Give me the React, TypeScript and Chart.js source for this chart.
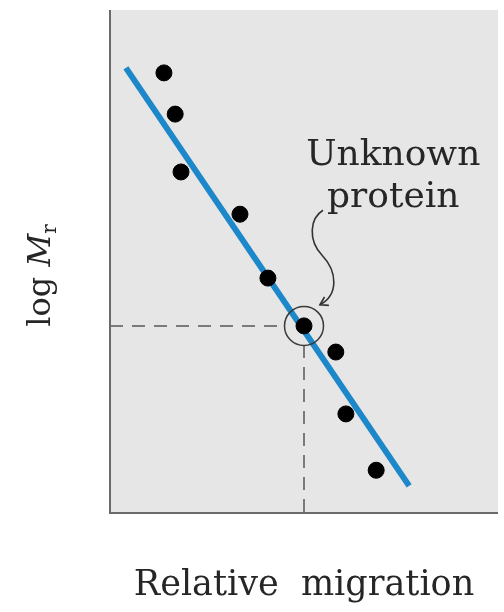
import React, { useEffect, useRef } from "react";
import { Chart, registerables } from "chart.js";

Chart.register(...registerables);

// Standards: relative migration vs log Mr (arbitrary units)
const migration = [0.139, 0.168, 0.183, 0.335, 0.407, 0.5, 0.582, 0.608, 0.686];
const logMr = [0.875, 0.793, 0.678, 0.594, 0.467, 0.372, 0.32, 0.197, 0.085];
const unknownIndex = 5;

// Fitted line end points
const fitX = [0.041, 0.771];
const fitY = [0.885, 0.054];

// Reading lines for the unknown protein
const readX = [0, 0.451];
const readY = [0.372, 0.372];
const dropX = [0.5, 0.5];
const dropY = [0.334, 0];

// Labels
const xLabel = "Relative  migration";
const yLabelParts = ["log ", "M", "r"];
const noteLines = ["Unknown", "protein"];
const notePos = [0.73, 0.692, 0.608]; // x, baseline of line1, baseline of line2

// Arrow path (data units): start, c1, c2, mid, c3, c4, tip
const arrowX = [0.549, 0.515, 0.51, 0.546, 0.588, 0.588, 0.541];
const arrowY = [0.602, 0.586, 0.543, 0.513, 0.479, 0.433, 0.414];

const SERIF = '"DejaVu Serif", serif';

const decorPlugin = {
  id: "decor",
  beforeDraw(chart: any) {
    const { ctx, chartArea: a } = chart;
    ctx.save();
    ctx.fillStyle = "#e6e6e6";
    ctx.fillRect(a.left, a.top, a.right - a.left, a.bottom - a.top);
    ctx.restore();
  },
  afterDatasetsDraw(chart: any) {
    const { ctx, chartArea: a } = chart;
    const xs = chart.scales.x;
    const ys = chart.scales.y;
    const px = (v: number) => xs.getPixelForValue(v);
    const py = (v: number) => ys.getPixelForValue(v);
    ctx.save();
    // axes
    ctx.strokeStyle = "#6a6a6a";
    ctx.lineWidth = 2;
    ctx.beginPath();
    ctx.moveTo(a.left, a.top);
    ctx.lineTo(a.left, a.bottom);
    ctx.lineTo(a.right, a.bottom);
    ctx.stroke();

    // arrow
    ctx.strokeStyle = "#333";
    ctx.lineWidth = 1.6;
    ctx.beginPath();
    ctx.moveTo(px(arrowX[0]), py(arrowY[0]));
    ctx.bezierCurveTo(px(arrowX[1]), py(arrowY[1]), px(arrowX[2]), py(arrowY[2]), px(arrowX[3]), py(arrowY[3]));
    ctx.bezierCurveTo(px(arrowX[4]), py(arrowY[4]), px(arrowX[5]), py(arrowY[5]), px(arrowX[6]), py(arrowY[6]));
    ctx.stroke();
    const tx = px(arrowX[6]);
    const ty = py(arrowY[6]);
    const ang = Math.atan2(ty - py(arrowY[5]), tx - px(arrowX[5]));
    const L = 9;
    ctx.beginPath();
    ctx.moveTo(tx - L * Math.cos(ang - 0.55), ty - L * Math.sin(ang - 0.55));
    ctx.lineTo(tx, ty);
    ctx.lineTo(tx - L * Math.cos(ang + 0.55), ty - L * Math.sin(ang + 0.55));
    ctx.stroke();

    // annotation text
    ctx.fillStyle = "#262626";
    ctx.font = `36px ${SERIF}`;
    ctx.textAlign = "center";
    ctx.textBaseline = "alphabetic";
    ctx.fillText(noteLines[0], px(notePos[0]), py(notePos[1]));
    ctx.fillText(noteLines[1], px(notePos[0]), py(notePos[2]));

    // x label
    ctx.font = `35px ${SERIF}`;
    ctx.fillText(xLabel, (a.left + a.right) / 2, a.bottom + 82);

    // y label (rotated, mixed fonts)
    ctx.translate(a.left - 60, (a.top + a.bottom) / 2 + 14);
    ctx.rotate(-Math.PI / 2);
    const f1 = `32px ${SERIF}`;
    const f2 = `italic 32px ${SERIF}`;
    const f3 = `20px ${SERIF}`;
    ctx.font = f1;
    const w1 = ctx.measureText(yLabelParts[0]).width;
    ctx.font = f2;
    const w2 = ctx.measureText(yLabelParts[1]).width;
    ctx.font = f3;
    const w3 = ctx.measureText(yLabelParts[2]).width;
    let x0 = -(w1 + w2 + w3) / 2;
    ctx.textAlign = "left";
    ctx.font = f1;
    ctx.fillText(yLabelParts[0], x0, 0);
    x0 += w1;
    ctx.font = f2;
    ctx.fillText(yLabelParts[1], x0, 0);
    x0 += w2;
    ctx.font = f3;
    ctx.fillText(yLabelParts[2], x0, 6);
    ctx.restore();
  },
};

export default function App() {
  const ref = useRef<HTMLCanvasElement | null>(null);
  useEffect(() => {
    if (!ref.current) return;
    const pts = migration.map((x, i) => ({ x, y: logMr[i] }));
    const chart = new Chart(ref.current, {
      type: "scatter",
      data: {
        datasets: [
          {
            label: "Standards",
            data: pts,
            backgroundColor: "#000",
            borderColor: "#000",
            pointRadius: 8,
            pointHoverRadius: 8,
            order: 0,
          },
          {
            label: "Unknown circle",
            data: [{ x: migration[unknownIndex], y: logMr[unknownIndex] }],
            backgroundColor: "rgba(0,0,0,0)",
            borderColor: "#3a3a3a",
            borderWidth: 1.5,
            pointRadius: 19.5,
            pointHoverRadius: 19.5,
            order: 1,
          },
          {
            type: "line",
            label: "Fit",
            data: fitX.map((x, i) => ({ x, y: fitY[i] })),
            borderColor: "#1c87c9",
            borderWidth: 6,
            pointRadius: 0,
            order: 2,
          },
          {
            type: "line",
            label: "Read",
            data: readX.map((x, i) => ({ x, y: readY[i] })),
            borderColor: "#7a7a7a",
            borderWidth: 2,
            borderDash: [13, 9],
            pointRadius: 0,
            order: 3,
          },
          {
            type: "line",
            label: "Drop",
            data: dropX.map((x, i) => ({ x, y: dropY[i] })),
            borderColor: "#7a7a7a",
            borderWidth: 2,
            borderDash: [13, 9],
            pointRadius: 0,
            order: 3,
          },
        ],
      },
      options: {
        animation: false,
        responsive: false,
        layout: { autoPadding: false, padding: { left: 110, right: 6, top: 10, bottom: 99 } },
        plugins: { legend: { display: false }, tooltip: { enabled: false } },
        scales: {
          x: { type: "linear", min: 0, max: 1, display: false },
          y: { type: "linear", min: 0, max: 1, display: false },
        },
      },
      plugins: [decorPlugin],
    } as any);
    return () => chart.destroy();
  }, []);
  return (
    <div style={{ position: "fixed", left: 0, top: 0, width: 504, height: 612, background: "#fff" }}>
      <canvas ref={ref} width={504} height={612} />
    </div>
  );
}
